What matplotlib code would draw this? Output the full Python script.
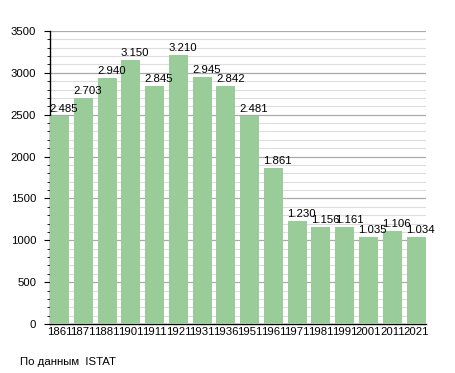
import matplotlib.pyplot as plt
from matplotlib.ticker import MultipleLocator

years = ['1861', '1871', '1881', '1901', '1911', '1921', '1931', '1936',
         '1951', '1961', '1971', '1981', '1991', '2001', '2011', '2021']
population = [2485, 2703, 2940, 3150, 2845, 3210, 2945, 2842,
              2481, 1861, 1230, 1156, 1161, 1035, 1106, 1034]

plt.rcParams['font.family'] = ['Liberation Sans', 'DejaVu Sans']
fs = 8.2

fig = plt.figure(figsize=(4.55, 3.73), dpi=100)
ax = fig.add_axes([50 / 455, 1 - 324 / 373, 376 / 455, 293 / 373])

x = list(range(len(years)))
ax.bar(x, population, width=0.8, color='#99cc99', zorder=3)

# value labels, left aligned at bar edge, dot as thousands separator
for i, v in enumerate(population):
    ax.text(i - 0.42, v + 25, '{:,}'.format(v).replace(',', '.'),
            ha='left', va='bottom', fontsize=fs, zorder=4)

ax.set_xlim(-0.4, len(years) - 0.58)
ax.set_ylim(0, 3500)
ax.set_xticks(x)
ax.set_xticklabels(years)
ax.yaxis.set_major_locator(MultipleLocator(500))
ax.yaxis.set_minor_locator(MultipleLocator(100))
ax.grid(axis='y', which='major', color='#aaaaaa', linewidth=0.9, zorder=1)
ax.grid(axis='y', which='minor', color='#dddddd', linewidth=0.8, zorder=1)

for s in ['top', 'right']:
    ax.spines[s].set_visible(False)
ax.spines['left'].set_linewidth(1.0)
ax.spines['bottom'].set_linewidth(1.0)

ax.tick_params(axis='y', which='major', length=4, labelsize=fs, pad=6)
ax.tick_params(axis='y', which='minor', length=2)
ax.tick_params(axis='x', length=0, labelsize=fs, pad=2)

fig.text(20 / 455, 1 - 362 / 373, 'По данным  ISTAT', fontsize=fs,
         ha='left', va='center')

fig.savefig('out.png', dpi=100)
